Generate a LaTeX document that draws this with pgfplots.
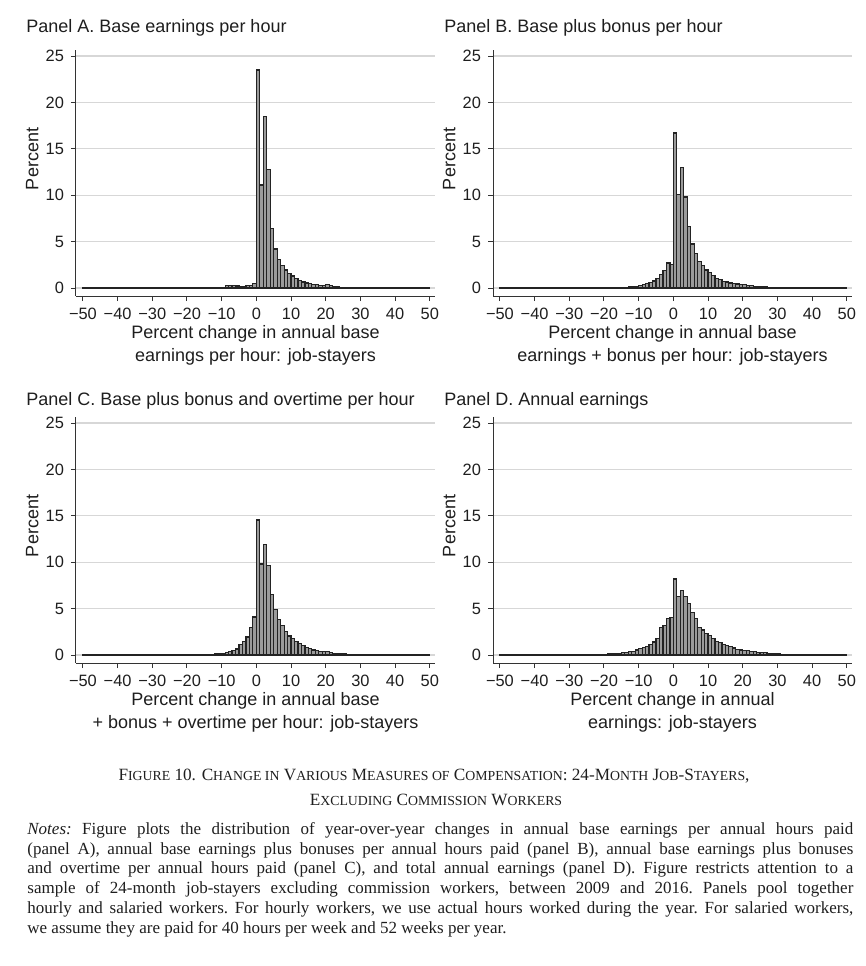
\documentclass[border=0pt]{standalone}
\usepackage{fontspec}
\setmainfont{Liberation Sans}
\newfontfamily\timesfont{Liberation Serif}
\usepackage{pgfplots}
\pgfplotsset{compat=1.18}

\definecolor{barfill}{RGB}{155,155,155}
\definecolor{barline}{RGB}{35,35,35}
\definecolor{gridc}{RGB}{215,215,215}
\definecolor{txt}{RGB}{30,30,30}
\newcommand\scs[1]{{\fontsize{6.9}{8}\selectfont #1}}

\pgfplotsset{panel/.style={
  scale only axis, width=179.5pt, height=123pt,
  xmin=-52, xmax=51.5, ymin=-0.86, ymax=25.65,
  axis x line=bottom, axis y line=left,
  axis line style={-, draw=black!80, line width=0.5pt},
  xtick={-50,-40,...,50},
  xticklabels={−50,−40,−30,−20,−10,0,10,20,30,40,50},
  ytick={0,5,10,15,20,25},
  yticklabels={0,5,10,15,20,25},
  tick align=outside, major tick length=2.5pt,
  tick style={black!80, line width=0.5pt},
  ymajorgrids, grid style={gridc, line width=0.6pt},
  ticklabel style={font=\fontsize{8.2}{9}\selectfont, text=txt},
  ylabel={Percent},
  every axis y label/.style={at={(axis description cs:-0.122,0.557)}, rotate=90, anchor=center, font=\fontsize{9}{11}\selectfont, text=txt},
  every axis x label/.style={at={(axis description cs:0.5,0)}, anchor=north, yshift=-11pt, align=center, font=\fontsize{9}{11.5}\selectfont, text=txt},
},
hist/.style={ybar interval, fill=barfill, draw=barline, line width=0.6pt}}

\begin{document}
\begin{tikzpicture}
\useasboundingbox (0,0) rectangle (433pt,-483pt);

\begin{axis}[panel, at={(38pt,-148pt)}, anchor=south west,
  xlabel={Percent change in annual base\\earnings per hour: job-stayers}]
\addplot[hist] coordinates {
(-50,0.06) (-49,0.04) (-48,0.04) (-47,0.04) (-46,0.04) (-45,0.04) (-44,0.04) (-43,0.04) (-42,0.04) (-41,0.04)
(-40,0.04) (-39,0.04) (-38,0.04) (-37,0.04) (-36,0.04) (-35,0.04) (-34,0.04) (-33,0.04) (-32,0.04) (-31,0.04)
(-30,0.04) (-29,0.04) (-28,0.04) (-27,0.04) (-26,0.04) (-25,0.04) (-24,0.04) (-23,0.04) (-22,0.04) (-21,0.04)
(-20,0.04) (-19,0.04) (-18,0.04) (-17,0.04) (-16,0.04) (-15,0.05) (-14,0.05) (-13,0.06) (-12,0.06) (-11,0.08)
(-10,0.1) (-9,0.25) (-8,0.25) (-7,0.28) (-6,0.22) (-5,0.15) (-4,0.15) (-3,0.3) (-2,0.3) (-1,0.5)
(0,23.5) (1,11.1) (2,18.5) (3,12.8) (4,6.45) (5,4.2) (6,3.1) (7,2.4) (8,1.95) (9,1.6)
(10,1.3) (11,1.0) (12,0.8) (13,0.65) (14,0.55) (15,0.45) (16,0.4) (17,0.35) (18,0.3) (19,0.3)
(20,0.35) (21,0.25) (22,0.15) (23,0.12) (24,0.1) (25,0.1) (26,0.08) (27,0.08) (28,0.07) (29,0.06)
(30,0.05) (31,0.05) (32,0.05) (33,0.05) (34,0.05) (35,0.05) (36,0.05) (37,0.05) (38,0.05) (39,0.05)
(40,0.08) (41,0.05) (42,0.05) (43,0.05) (44,0.05) (45,0.05) (46,0.05) (47,0.05) (48,0.05) (49,0.05)
(50,0)};
\end{axis}

\begin{axis}[panel, at={(246.5pt,-148pt)}, anchor=south west,
  xlabel={Percent change in annual base\\earnings + bonus per hour: job-stayers}]
\addplot[hist] coordinates {
(-50,0.04) (-49,0.04) (-48,0.04) (-47,0.04) (-46,0.04) (-45,0.04) (-44,0.04) (-43,0.04) (-42,0.04) (-41,0.04)
(-40,0.04) (-39,0.04) (-38,0.04) (-37,0.04) (-36,0.04) (-35,0.04) (-34,0.04) (-33,0.04) (-32,0.04) (-31,0.04)
(-30,0.04) (-29,0.04) (-28,0.04) (-27,0.04) (-26,0.04) (-25,0.04) (-24,0.04) (-23,0.04) (-22,0.04) (-21,0.04)
(-20,0.04) (-19,0.04) (-18,0.05) (-17,0.06) (-16,0.08) (-15,0.1) (-14,0.1) (-13,0.12) (-12,0.15) (-11,0.2)
(-10,0.25) (-9,0.35) (-8,0.5) (-7,0.6) (-6,0.75) (-5,1.0) (-4,1.5) (-3,1.9) (-2,2.7) (-1,2.55)
(0,16.7) (1,10.1) (2,13.0) (3,9.8) (4,6.6) (5,4.75) (6,3.7) (7,2.9) (8,2.4) (9,1.95)
(10,1.7) (11,1.35) (12,1.05) (13,0.9) (14,0.7) (15,0.65) (16,0.55) (17,0.45) (18,0.43) (19,0.4)
(20,0.35) (21,0.3) (22,0.25) (23,0.2) (24,0.2) (25,0.15) (26,0.12) (27,0.1) (28,0.1) (29,0.1)
(30,0.1) (31,0.05) (32,0.05) (33,0.05) (34,0.05) (35,0.05) (36,0.05) (37,0.05) (38,0.05) (39,0.05)
(40,0.05) (41,0.05) (42,0.05) (43,0.05) (44,0.05) (45,0.05) (46,0.05) (47,0.05) (48,0.05) (49,0.05)
(50,0)};
\end{axis}

\begin{axis}[panel, at={(38pt,-331.5pt)}, anchor=south west,
  xlabel={Percent change in annual base\\+ bonus + overtime per hour: job-stayers}]
\addplot[hist] coordinates {
(-50,0.04) (-49,0.04) (-48,0.04) (-47,0.04) (-46,0.04) (-45,0.04) (-44,0.04) (-43,0.04) (-42,0.04) (-41,0.04)
(-40,0.04) (-39,0.04) (-38,0.04) (-37,0.04) (-36,0.04) (-35,0.04) (-34,0.04) (-33,0.04) (-32,0.04) (-31,0.04)
(-30,0.04) (-29,0.04) (-28,0.04) (-27,0.04) (-26,0.06) (-25,0.02) (-24,0.04) (-23,0.04) (-22,0.04) (-21,0.04)
(-20,0.04) (-19,0.04) (-18,0.04) (-17,0.04) (-16,0.04) (-15,0.06) (-14,0.08) (-13,0.1) (-12,0.12) (-11,0.15)
(-10,0.18) (-9,0.28) (-8,0.39) (-7,0.46) (-6,0.64) (-5,1.1) (-4,1.5) (-3,1.95) (-2,3.0) (-1,4.1)
(0,14.55) (1,9.8) (2,11.9) (3,9.65) (4,6.55) (5,4.9) (6,3.85) (7,3.2) (8,2.5) (9,2.05)
(10,1.75) (11,1.45) (12,1.2) (13,1.0) (14,0.8) (15,0.7) (16,0.55) (17,0.45) (18,0.4) (19,0.38)
(20,0.4) (21,0.3) (22,0.2) (23,0.18) (24,0.15) (25,0.12) (26,0.1) (27,0.1) (28,0.1) (29,0.1)
(30,0.1) (31,0.05) (32,0.05) (33,0.05) (34,0.05) (35,0.05) (36,0.05) (37,0.05) (38,0.05) (39,0.05)
(40,0.05) (41,0.05) (42,0.05) (43,0.05) (44,0.05) (45,0.05) (46,0.05) (47,0.05) (48,0.05) (49,0.05)
(50,0)};
\end{axis}

\begin{axis}[panel, at={(246.5pt,-331.5pt)}, anchor=south west,
  xlabel={Percent change in annual\\earnings: job-stayers}]
\addplot[hist] coordinates {
(-50,0.08) (-49,0.08) (-48,0.08) (-47,0.08) (-46,0.08) (-45,0.08) (-44,0.08) (-43,0.08) (-42,0.08) (-41,0.08)
(-40,0.08) (-39,0.08) (-38,0.08) (-37,0.08) (-36,0.08) (-35,0.05) (-34,0.05) (-33,0.05) (-32,0.05) (-31,0.05)
(-30,0.05) (-29,0.05) (-28,0.05) (-27,0.05) (-26,0.05) (-25,0.08) (-24,0.08) (-23,0.08) (-22,0.08) (-21,0.08)
(-20,0.1) (-19,0.12) (-18,0.15) (-17,0.18) (-16,0.2) (-15,0.25) (-14,0.3) (-13,0.35) (-12,0.4) (-11,0.55)
(-10,0.7) (-9,0.8) (-8,0.95) (-7,1.15) (-6,1.4) (-5,1.8) (-4,2.95) (-3,3.2) (-2,3.9) (-1,4.05)
(0,8.2) (1,6.35) (2,6.95) (3,6.35) (4,5.55) (5,4.6) (6,3.95) (7,3.0) (8,2.7) (9,2.35)
(10,2.1) (11,1.75) (12,1.5) (13,1.35) (14,1.15) (15,1.0) (16,0.9) (17,0.75) (18,0.6) (19,0.55)
(20,0.5) (21,0.45) (22,0.4) (23,0.35) (24,0.3) (25,0.3) (26,0.25) (27,0.2) (28,0.2) (29,0.15)
(30,0.15) (31,0.1) (32,0.1) (33,0.1) (34,0.1) (35,0.1) (36,0.1) (37,0.1) (38,0.1) (39,0.1)
(40,0.1) (41,0.08) (42,0.08) (43,0.08) (44,0.08) (45,0.08) (46,0.08) (47,0.08) (48,0.08) (49,0.08)
(50,0)};
\end{axis}

\begin{scope}[every node/.style={inner sep=0pt, text=txt, font=\fontsize{9}{11}\selectfont}]
\node[anchor=base west] at (13pt,-16.25pt) {Panel A. Base earnings per hour};
\node[anchor=base west] at (222pt,-16.25pt) {Panel B. Base plus bonus per hour};
\node[anchor=base west] at (13pt,-202.75pt) {Panel C. Base plus bonus and overtime per hour};
\node[anchor=base west] at (222pt,-202.75pt) {Panel D. Annual earnings};
\end{scope}

\node[anchor=base, inner sep=0pt, text=txt, font=\timesfont\fontsize{8.6}{10}\selectfont] at (217pt,-390pt)
  {F\scs{IGURE} 10. C\scs{HANGE IN} V\scs{ARIOUS} M\scs{EASURES OF} C\scs{OMPENSATION}: 24-M\scs{ONTH} J\scs{OB}-S\scs{TAYERS},};
\node[anchor=base, inner sep=0pt, text=txt, font=\timesfont\fontsize{8.6}{10}\selectfont] at (218pt,-402.5pt)
  {E\scs{XCLUDING} C\scs{OMMISSION} W\scs{ORKERS}};

\node[anchor=north west, inner sep=0pt, text=txt, text width=413pt, align=justify,
  font=\timesfont\fontsize{8.5}{9.9}\selectfont\frenchspacing] at (13.5pt,-411pt)
  {\textit{Notes:} Figure plots the distribution of year-over-year changes in annual base earnings per annual hours paid\linebreak
  (panel A), annual base earnings plus bonuses per annual hours paid (panel B), annual base earnings plus bonuses\linebreak
  and overtime per annual hours paid (panel C), and total annual earnings (panel D). Figure restricts attention to a\linebreak
  sample of 24-month job-stayers excluding commission workers, between 2009 and 2016. Panels pool together\linebreak
  hourly and salaried workers. For hourly workers, we use actual hours worked during the year. For salaried workers,\linebreak
  we assume they are paid for 40 hours per week and 52 weeks per year.};
\end{tikzpicture}
\end{document}
